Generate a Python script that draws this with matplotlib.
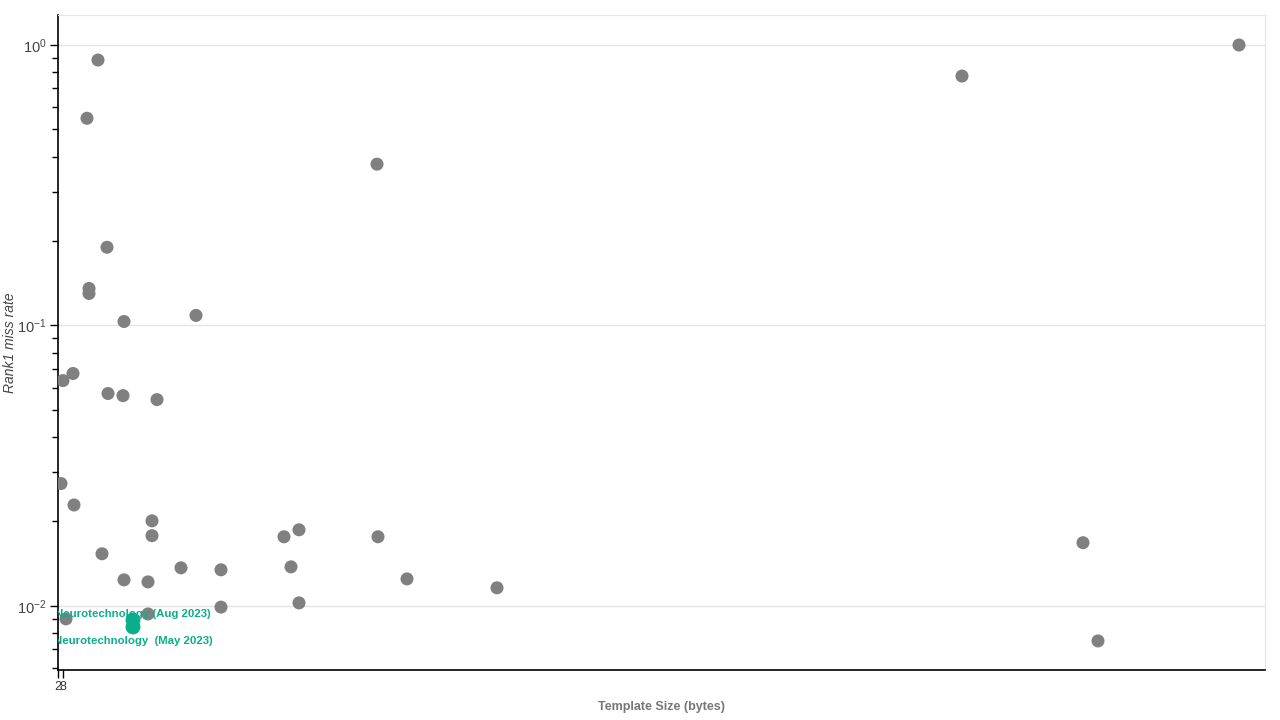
import numpy as np
import matplotlib.pyplot as plt
from matplotlib.ticker import LogLocator, NullFormatter, FixedLocator, FixedFormatter

plt.rcParams['font.family'] = ['Liberation Sans', 'DejaVu Sans']

# other algorithms: template size (bytes) vs rank1 miss rate
template_size = [800, 580, 980, 620, 620, 1320, 2760, 6380, 18080, 23620,
                 100, 300, 1000, 1300, 1980, 60, 320, 1880, 1880, 880,
                 1320, 1800, 2460, 3260, 3260, 1800, 160, 4520, 4820, 4660,
                 4820, 6400, 6980, 8780, 20500, 20800]
miss_rate = [0.884, 0.548, 0.190, 0.1355, 0.130, 0.1033, 0.1086, 0.376, 0.775, 1.0,
             0.0636, 0.0674, 0.0572, 0.0562, 0.0544, 0.0273, 0.0229, 0.0201, 0.0178, 0.01534,
             0.01238, 0.01218, 0.01367, 0.01345, 0.0099, 0.00936, 0.00899, 0.01764, 0.01868, 0.01378,
             0.01025, 0.01764, 0.01248, 0.01160, 0.0168, 0.0075]

# highlighted entries
hl_names = ['Neurotechnology (Aug 2023)', 'Neurotechnology  (May 2023)']
hl_size = [1500, 1500]
hl_rate = [0.00891, 0.00841]
hl_offset = [4.3, -10]  # label offset in points

# x ticks crowd together at the origin
x_ticks = [0, 100]
x_tick_labels = ['2', '8']

green = '#0bae8b'

fig = plt.figure(figsize=(12.8, 7.2), dpi=100)
ax = fig.add_axes([58 / 1280, 50 / 720, (1265 - 58) / 1280, (670 - 15) / 720])

ax.scatter(template_size, miss_rate, s=88, color='#808080', edgecolors='none', zorder=3)
ax.scatter(hl_size, hl_rate, s=115, color=green, edgecolors='none', zorder=4)
for name, x, y, off in zip(hl_names, hl_size, hl_rate, hl_offset):
    ax.annotate(name, (x, y), xytext=(0, off), textcoords='offset points',
                ha='center', va='center', fontsize=8.2, fontweight='bold',
                color=green, annotation_clip=False, clip_on=True, zorder=5)

ax.set_yscale('log')
ax.set_xlim(0, 24140)
ax.set_ylim(10 ** -2.2286, 10 ** 0.107)

ax.yaxis.set_major_locator(LogLocator(base=10, numticks=10))
ax.yaxis.set_minor_locator(LogLocator(base=10, subs=np.arange(2, 10), numticks=20))
ax.yaxis.set_minor_formatter(NullFormatter())
ax.xaxis.set_major_locator(FixedLocator(x_ticks))
ax.xaxis.set_major_formatter(FixedFormatter(x_tick_labels))

ax.grid(axis='y', which='major', color='#e5e5e5', linewidth=1)
ax.set_axisbelow(True)

for side in ['top', 'right']:
    ax.spines[side].set_color('#e5e5e5')
for side in ['left', 'bottom']:
    ax.spines[side].set_color('black')
    ax.spines[side].set_linewidth(1.2)

ax.tick_params(axis='y', which='major', length=6, width=1, labelsize=10.5, labelcolor='#444444', pad=2)
ax.tick_params(axis='y', which='minor', length=4, width=1)
ax.tick_params(axis='x', which='major', length=6, width=1, labelsize=9, labelcolor='#333333', pad=2)

ax.set_ylabel('Rank1 miss rate', fontsize=10, fontstyle='italic', color='#444444')
ax.yaxis.set_label_coords(-0.034, 0.5)
ax.set_xlabel('Template Size (bytes)', fontsize=9, fontweight='bold', color='#777777')
ax.xaxis.set_label_coords(0.5, -0.047)

fig.savefig('out.png', dpi=100)
